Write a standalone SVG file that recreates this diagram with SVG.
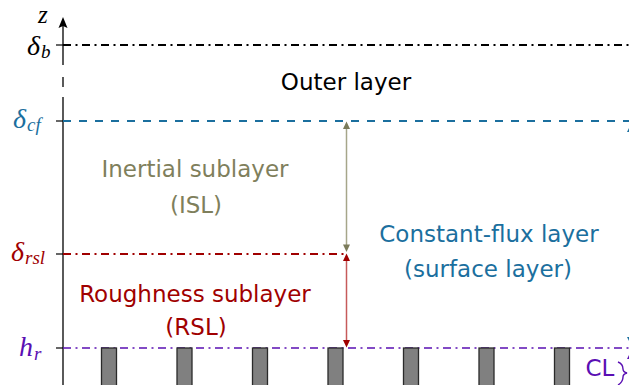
<svg xmlns="http://www.w3.org/2000/svg" width="629" height="385" viewBox="0 0 629 385">
  <style>
    .lbl { font-family: "DejaVu Sans", "Liberation Sans", sans-serif; font-size: 23px; text-anchor: middle; }
    .math { font-family: "Liberation Serif", "DejaVu Serif", serif; font-style: italic; font-size: 28px; }
    .sub { font-size: 19px; }
    .axis { stroke: #000; stroke-width: 1.3; fill: none; }
    .tick { stroke: #000; stroke-width: 1.2; }
    .dashdot { stroke-dasharray: 8 4.5 2 4.5; fill: none; }
    .bar { fill: #808080; stroke: #2a2a2a; stroke-width: 1.3; }
    .black { fill: #000; }
    .blue { fill: #1b6f9e; }
    .olive { fill: #7f7f5c; }
    .red { fill: #a00000; }
    .purple { fill: #5a0fb3; }
  </style>

  <!-- vertical z axis with a break below delta_b -->
  <g id="axis">
    <line class="axis" x1="63" y1="26" x2="63" y2="65"/>
    <line class="axis" x1="63" y1="77" x2="63" y2="87"/>
    <line class="axis" x1="63" y1="97" x2="63" y2="385"/>
    <path d="M63,17 L67.5,28 L63,26 L58.5,28 Z" fill="#000"/>
    <line class="tick" x1="56" y1="45" x2="63" y2="45"/>
    <line class="tick" x1="56" y1="121" x2="63" y2="121"/>
    <line class="tick" x1="56" y1="254" x2="63" y2="254"/>
    <line class="tick" x1="56" y1="348" x2="63" y2="348"/>
    <text class="math black" x="38" y="23" style="font-size:25px">z</text>
  </g>

  <!-- height levels -->
  <g id="level-delta-b">
    <line class="dashdot" x1="63" y1="45" x2="629" y2="45" stroke="#000" stroke-width="2"/>
    <text class="math black" x="27" y="55">δ<tspan class="sub" dx="1" dy="3">b</tspan></text>
  </g>
  <g id="level-delta-cf">
    <line x1="63" y1="121" x2="629" y2="121" stroke="#1b6f9e" stroke-width="2.2" stroke-dasharray="8 8"/>
    <text class="math blue" x="13" y="128">δ<tspan class="sub" dx="1" dy="3">cf</tspan></text>
  </g>
  <g id="level-delta-rsl">
    <line class="dashdot" x1="63" y1="254" x2="346" y2="254" stroke="#a00000" stroke-width="2"/>
    <text class="math red" x="11" y="261">δ<tspan class="sub" dx="1" dy="3">rsl</tspan></text>
  </g>
  <g id="level-h-r">
    <line class="dashdot" x1="63" y1="348" x2="629" y2="348" stroke="#5a0fb3" stroke-width="1.3"/>
    <text class="math purple" x="19" y="356">h<tspan class="sub" dx="1" dy="4">r</tspan></text>
  </g>

  <!-- roughness elements -->
  <g id="roughness-elements">
    <rect class="bar" x="101.5" y="348" width="15" height="40"/>
    <rect class="bar" x="177" y="348" width="15" height="40"/>
    <rect class="bar" x="252.5" y="348" width="15" height="40"/>
    <rect class="bar" x="328" y="348" width="15" height="40"/>
    <rect class="bar" x="403.5" y="348" width="15" height="40"/>
    <rect class="bar" x="479" y="348" width="15" height="40"/>
    <rect class="bar" x="554.5" y="348" width="15" height="40"/>
  </g>

  <!-- layer names -->
  <g id="outer-layer">
    <text class="lbl black" x="346" y="90">Outer layer</text>
  </g>
  <g id="inertial-sublayer">
    <text class="lbl olive" x="195" y="177">Inertial sublayer</text>
    <text class="lbl olive" x="196" y="213">(ISL)</text>
  </g>
  <g id="constant-flux-layer">
    <text class="lbl blue" x="489" y="242">Constant-flux layer</text>
    <text class="lbl blue" x="488" y="277">(surface layer)</text>
  </g>
  <g id="roughness-sublayer">
    <text class="lbl red" x="195" y="302">Roughness sublayer</text>
    <text class="lbl red" x="196" y="335">(RSL)</text>
  </g>
  <g id="canopy-layer">
    <text class="lbl purple" x="600" y="376">CL</text>
  </g>

  <!-- extent arrows -->
  <g id="connectors">
    <line x1="346.5" y1="128" x2="346.5" y2="245" stroke="#a6a68a" stroke-width="1.5"/>
    <path d="M346.5,121.5 L350,129 L343,129 Z" fill="#7b7b5a"/>
    <path d="M346.5,252 L350,244.5 L343,244.5 Z" fill="#7b7b5a"/>
    <line x1="346.5" y1="261" x2="346.5" y2="340" stroke="#c65a5a" stroke-width="1.5"/>
    <path d="M346.5,253.5 L350,261 L343,261 Z" fill="#a00000"/>
    <path d="M346.5,347.5 L350,340 L343,340 Z" fill="#a00000"/>
    <!-- arrows running past the right border -->
    <path d="M632,122 L637,132 L627,132 Z" fill="#1b6f9e"/>
    <path d="M632,347 L637,337 L627,337 Z" fill="#1b6f9e"/>
    <path d="M632,349 L637,359 L627,359 Z" fill="#5a0fb3"/>
    <path d="M618,362 Q623,364 623,369 Q623,372 627,373 Q623,374 623,377 Q623,382 618,385" fill="none" stroke="#5a0fb3" stroke-width="1.4"/>
  </g>
</svg>
